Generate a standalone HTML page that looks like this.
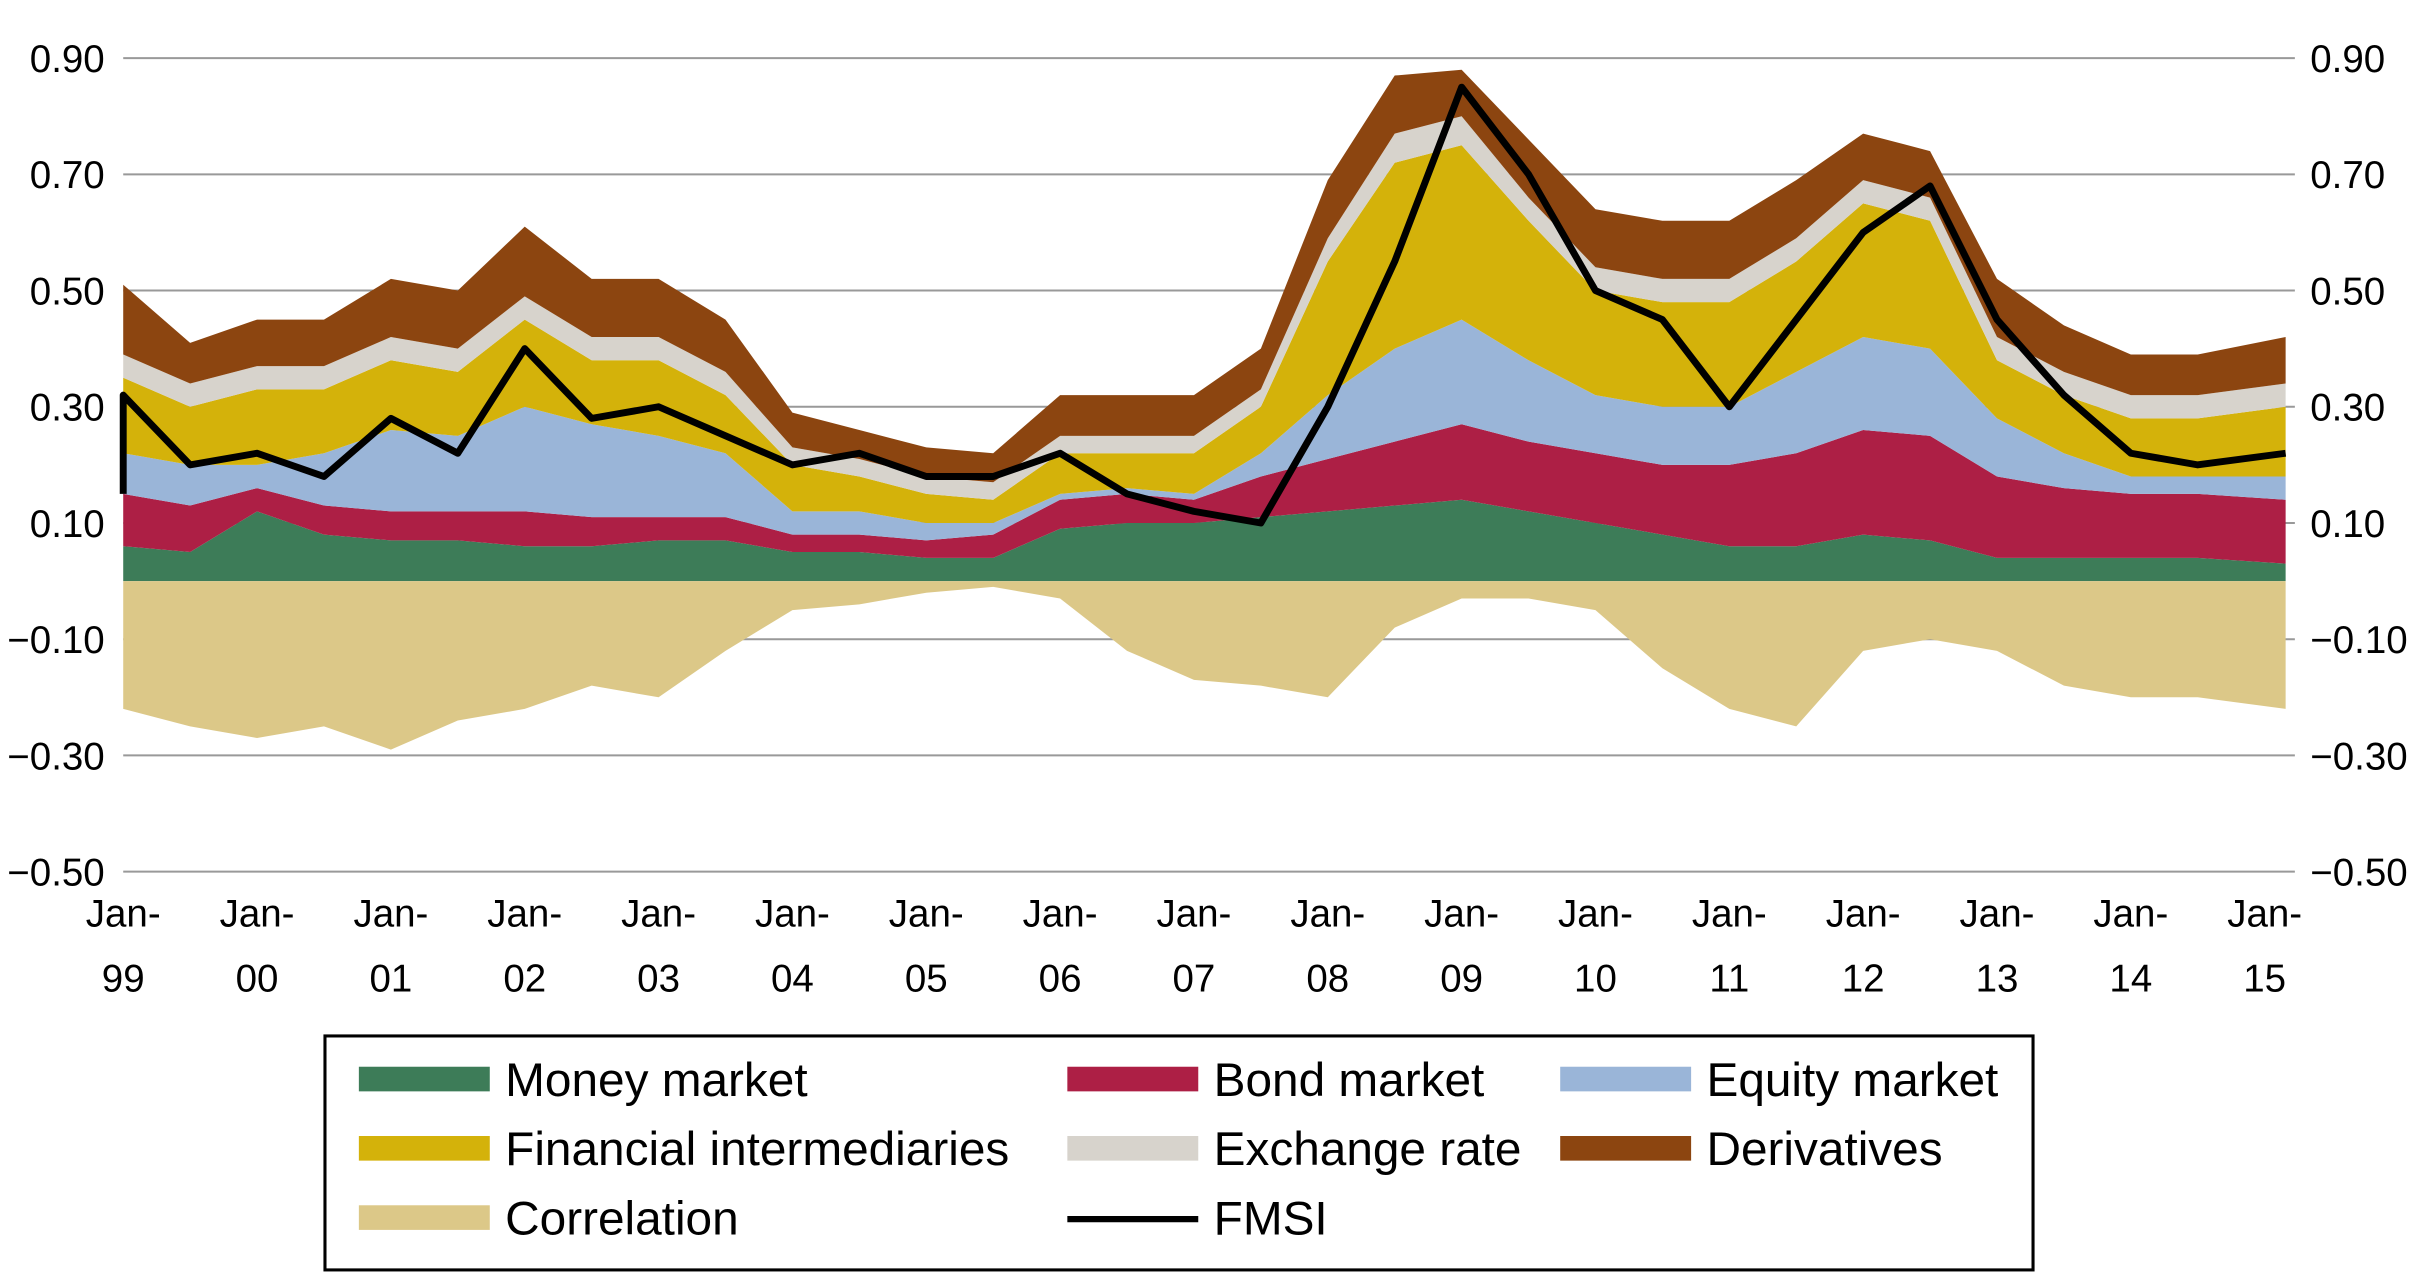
<!DOCTYPE html>
<html><head><meta charset="utf-8"><style>
html,body{margin:0;padding:0;background:#fff;}
svg{display:block;font-family:"Liberation Sans",Arial,sans-serif;}
</style></head><body>
<svg id="chart" width="2415" height="1273" viewBox="0 0 1568 827" preserveAspectRatio="none" xmlns="http://www.w3.org/2000/svg">
<g id="grid"></g>
<g id="areas"></g>
<g id="lines"></g>
<g id="axes"></g>
<g>
<rect x="211" y="673" width="1109" height="152" fill="#fff" stroke="#000" stroke-width="2"/>
<g font-size="31" fill="#000">
<rect x="233" y="693" width="85" height="16" fill="#3d7c58"/>
<text x="328" y="712">Money market</text>
<rect x="693" y="693" width="85" height="16" fill="#ad1f45"/>
<text x="788" y="712">Bond market</text>
<rect x="1013" y="693" width="85" height="16" fill="#9ab5d8"/>
<text x="1108" y="712">Equity market</text>
<rect x="233" y="738" width="85" height="16" fill="#d4b20a"/>
<text x="328" y="757">Financial intermediaries</text>
<rect x="693" y="738" width="85" height="16" fill="#d7d3cc"/>
<text x="788" y="757">Exchange rate</text>
<rect x="1013" y="738" width="85" height="16" fill="#8c4510"/>
<text x="1108" y="757">Derivatives</text>
<rect x="233" y="783" width="85" height="16" fill="#dcc888"/>
<text x="328" y="802">Correlation</text>
<line x1="693" y1="792" x2="778" y2="792" stroke="#000" stroke-width="4"/>
<text x="788" y="802">FMSI</text>
</g></g>
</svg>
<script>
const years = [1999,1999.5,2000,2000.5,2001,2001.5,2002,2002.5,2003,2003.5,2004,2004.5,2005,2005.5,2006,2006.5,2007,2007.5,2008,2008.5,2009,2009.5,2010,2010.5,2011,2011.5,2012,2012.5,2013,2013.5,2014,2014.5,2015];
const money = [0.06,0.05,0.12,0.08,0.07,0.07,0.06,0.06,0.07,0.07,0.05,0.05,0.04,0.04,0.09,0.10,0.10,0.11,0.12,0.13,0.14,0.12,0.10,0.08,0.06,0.06,0.08,0.07,0.04,0.04,0.04,0.04,0.03];
const bond = [0.09,0.08,0.04,0.05,0.05,0.05,0.06,0.05,0.04,0.04,0.03,0.03,0.03,0.04,0.05,0.05,0.04,0.07,0.09,0.11,0.13,0.12,0.12,0.12,0.14,0.16,0.18,0.18,0.14,0.12,0.11,0.11,0.11];
const equity = [0.07,0.07,0.04,0.09,0.14,0.13,0.18,0.16,0.14,0.11,0.04,0.04,0.03,0.02,0.01,0.01,0.01,0.04,0.11,0.16,0.18,0.14,0.10,0.10,0.10,0.14,0.16,0.15,0.10,0.06,0.03,0.03,0.04];
const fin = [0.13,0.10,0.13,0.11,0.12,0.11,0.15,0.11,0.13,0.10,0.08,0.06,0.05,0.04,0.07,0.06,0.07,0.08,0.23,0.32,0.30,0.24,0.18,0.18,0.18,0.19,0.23,0.22,0.10,0.10,0.10,0.10,0.12];
const fx = [0.04,0.04,0.04,0.04,0.04,0.04,0.04,0.04,0.04,0.04,0.03,0.03,0.03,0.03,0.03,0.03,0.03,0.03,0.04,0.05,0.05,0.04,0.04,0.04,0.04,0.04,0.04,0.04,0.04,0.04,0.04,0.04,0.04];
const deriv = [0.12,0.07,0.08,0.08,0.10,0.10,0.12,0.10,0.10,0.09,0.06,0.05,0.05,0.05,0.07,0.07,0.07,0.07,0.10,0.10,0.08,0.10,0.10,0.10,0.10,0.10,0.08,0.08,0.10,0.08,0.07,0.07,0.08];
const corr = [-0.22,-0.25,-0.27,-0.25,-0.29,-0.24,-0.22,-0.18,-0.20,-0.12,-0.05,-0.04,-0.02,-0.01,-0.03,-0.12,-0.17,-0.18,-0.20,-0.08,-0.03,-0.03,-0.05,-0.15,-0.22,-0.25,-0.12,-0.10,-0.12,-0.18,-0.20,-0.20,-0.22];
const fmsi = [0.32,0.20,0.22,0.18,0.28,0.22,0.40,0.28,0.30,0.25,0.20,0.22,0.18,0.18,0.22,0.15,0.12,0.10,0.30,0.55,0.85,0.70,0.50,0.45,0.30,0.45,0.60,0.68,0.45,0.32,0.22,0.20,0.22];
const yTicks = [0.9,0.7,0.5,0.3,0.1,-0.1,-0.3,-0.5];
const yTickLabels = ["0.90","0.70","0.50","0.30","0.10","\u22120.10","\u22120.30","\u22120.50"];
const xTickYears = [1999,2000,2001,2002,2003,2004,2005,2006,2007,2008,2009,2010,2011,2012,2013,2014,2015];
const xTickLabels = ["99","00","01","02","03","04","05","06","07","08","09","10","11","12","13","14","15"];

const NS="http://www.w3.org/2000/svg";
const xs = t => 80 + (t-1999)*86.9;
const ys = v => 377.5 - v*377.5;
const X0=80, X1=1484;
function mk(tag,attrs,parent){const e=document.createElementNS(NS,tag);for(const k in attrs)e.setAttribute(k,attrs[k]);parent.appendChild(e);return e;}
const grid=document.getElementById('grid'), areas=document.getElementById('areas'), lines=document.getElementById('lines'), axes=document.getElementById('axes');
function xi(i){return i===years.length-1 ? X1 : xs(years[i]);}

yTicks.forEach((v,i)=>{
  const l=mk('line',{x1:X0,x2:X1+6,y1:ys(v),y2:ys(v),stroke:'#999','stroke-width':1.3},grid);
  
  
  const tl=mk('text',{x:68,y:ys(v)+9,'font-size':25,'text-anchor':'end',fill:'#000'},axes);
  tl.textContent=yTickLabels[i];
  
  
  const tr=mk('text',{x:1500,y:ys(v)+9,'font-size':25,fill:'#000'},axes);
  tr.textContent=yTickLabels[i];
  
  
});
xTickYears.forEach((yv,i)=>{
  const a=mk('text',{x:xs(yv),y:602,'font-size':25,'text-anchor':'middle',fill:'#000'},axes);
  a.textContent='Jan-';
  
  
  const b=mk('text',{x:xs(yv),y:644,'font-size':25,'text-anchor':'middle',fill:'#000'},axes);
  b.textContent=xTickLabels[i];
  
  
});

const series=[[money,'#3d7c58','area-money'],[bond,'#ad1f45','area-bond'],[equity,'#9ab5d8','area-equity'],[fin,'#d4b20a','area-fin'],[fx,'#d7d3cc','area-fx'],[deriv,'#8c4510','area-deriv']];
let base=years.map(()=>0);
series.forEach(([arr,col,name])=>{
  const top=base.map((b,i)=>b+arr[i]);
  let d='M'+xi(0)+','+ys(top[0]);
  for(let i=1;i<years.length;i++) d+=' L'+xi(i)+','+ys(top[i]);
  for(let i=years.length-1;i>=0;i--) d+=' L'+xi(i)+','+ys(base[i]);
  const p=mk('path',{d:d+'Z',fill:col},areas);
  
  
  base=top;
});
let dc='M'+xi(0)+','+ys(0);
for(let i=0;i<years.length;i++) dc+=' L'+xi(i)+','+ys(corr[i]);
dc+=' L'+X1+','+ys(0)+'Z';
const pc=mk('path',{d:dc,fill:'#dcc888'},areas);



let dl='M'+xi(0)+','+ys(0.15)+' L'+xi(0)+','+ys(fmsi[0]);
for(let i=1;i<years.length;i++) dl+=' L'+xi(i)+','+ys(fmsi[i]);
const pl=mk('path',{d:dl,fill:'none',stroke:'#000','stroke-width':4.5,'stroke-linejoin':'round'},lines);


</script>
</body></html>
